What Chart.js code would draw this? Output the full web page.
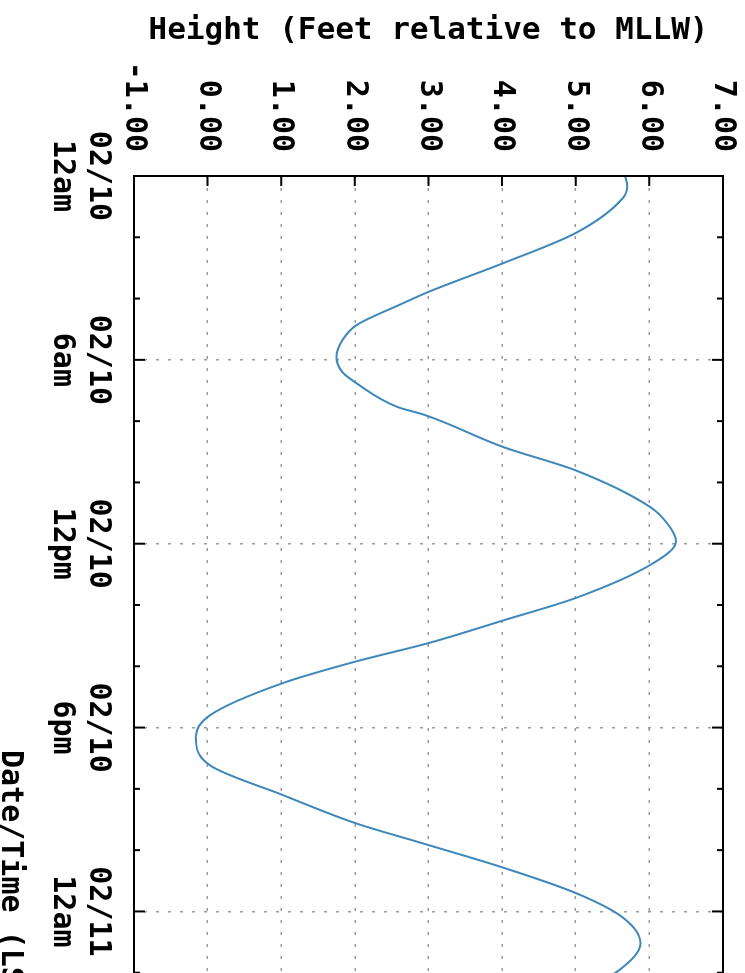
<!DOCTYPE html>
<html>
<head>
<meta charset="utf-8">
<title>Tide prediction 02/10</title>
<script src="https://cdn.jsdelivr.net/npm/chart.js@4.4.1/dist/chart.umd.min.js"></script>
<style>
  html, body { margin: 0; padding: 0; background: #fff; overflow: hidden; }
  /* chart is drawn landscape, then turned a quarter turn clockwise like the reference */
  #frame {
    position: absolute; left: 0; top: 0;
    width: 973px; height: 745px; overflow: hidden; background: #fff;
    transform-origin: 0 0; transform: translateX(745px) rotate(90deg);
  }
  canvas { display: block; }
</style>
</head>
<body>
<div id="frame"><canvas id="tide" width="1052" height="745"></canvas></div>
<script>
// hours after 02/10 12am (LST) and height in feet relative to MLLW
const hours   = [0, 0.33, 0.72, 1.86, 2.84, 3.79, 4.2, 4.87, 5.36, 5.91, 6.4, 6.76, 7.54, 7.8, 8.85, 9.6,
                 10.8, 11.33, 11.92, 12.64, 13.78, 14.5, 15.25, 15.84, 16.55, 17.6, 18.3, 19.23, 20.2,
                 21.13, 21.75, 22.56, 23.4, 24.2, 25.05, 25.9, 26.4];
const heights = [5.67, 5.70, 5.64, 5.00, 4.02, 2.99, 2.61, 2.02, 1.83, 1.75, 1.83, 2.02, 2.58, 2.95, 4.02, 4.99,
                 6.01, 6.24, 6.36, 6.05, 4.99, 4.02, 2.99, 2.02, 1.02, 0.03, -0.16, 0.03, 1.02,
                 2.02, 2.88, 4.00, 5.00, 5.64, 5.88, 5.60, 5.25];

// labelled time ticks
const labelHours = [0, 6, 12, 18, 24];
const labelDates = ['02/10', '02/10', '02/10', '02/10', '02/11'];
const labelTimes = ['12am', '6am', '12pm', '6pm', '12am'];

const hourMax = 28;
const monoFont = '"DejaVu Sans Mono", "Liberation Mono", monospace';
const gridGray = 'rgba(130, 130, 130, 0.8)';

// solid frame, inward tick marks and the time axis title
const frameTicks = {
    id: 'frameTicks',
    afterDraw(chart) {
        const { ctx, chartArea: a, scales: { x, y } } = chart;
        ctx.save();
        ctx.strokeStyle = '#000';
        ctx.lineWidth = 2;
        ctx.beginPath();
        x.ticks.forEach(t => {
            const px = x.getPixelForValue(t.value);
            const len = t.value % 6 === 0 ? 11 : 6;
            ctx.moveTo(px, a.bottom);
            ctx.lineTo(px, a.bottom - len);
            ctx.moveTo(px, a.top);
            ctx.lineTo(px, a.top + len);
        });
        y.ticks.forEach(t => {
            const py = y.getPixelForValue(t.value);
            ctx.moveTo(a.left, py);
            ctx.lineTo(a.left + 10, py);
        });
        ctx.stroke();
        ctx.strokeRect(a.left, a.top, a.right - a.left, a.bottom - a.top);

        ctx.font = 'bold 30px ' + monoFont;
        ctx.fillStyle = '#000';
        ctx.textBaseline = 'middle';
        ctx.textAlign = 'left';
        ctx.fillText('Date/Time (LST)', 750, 735);
        ctx.restore();
    }
};

const points = hours.map((h, i) => ({ x: h, y: heights[i] }));

new Chart(document.getElementById('tide').getContext('2d'), {
    type: 'line',
    data: {
        datasets: [{
            data: points,
            borderColor: '#3f88bb',
            borderWidth: 2,
            pointRadius: 0,
            fill: false,
            cubicInterpolationMode: 'monotone'
        }]
    },
    options: {
        responsive: false,
        animation: false,
        layout: { padding: { top: 22, right: 6.5, left: 0, bottom: 0 } },
        plugins: { legend: { display: false }, tooltip: { enabled: false } },
        scales: {
            x: {
                type: 'linear',
                min: 0,
                max: hourMax,
                afterFit: scale => { scale.height = 134; },
                ticks: {
                    stepSize: 2,
                    autoSkip: false,
                    maxRotation: 0,
                    padding: 18,
                    color: '#000',
                    font: { family: monoFont, size: 30, weight: 'bold', lineHeight: 1.2 },
                    callback: v => {
                        const i = labelHours.indexOf(v);
                        return i < 0 ? '' : [labelDates[i], labelTimes[i]];
                    }
                },
                grid: {
                    drawTicks: false,
                    lineWidth: 1.5,
                    color: c => (c.tick && c.tick.value % 6 === 0 && c.tick.value > 0 && c.tick.value < hourMax)
                        ? gridGray : 'rgba(0,0,0,0)'
                },
                border: { display: false, dash: [3, 9] }
            },
            y: {
                min: -1,
                max: 7,
                afterFit: scale => {
                    scale.width = 176;
                    scale.paddingTop = 0;
                    scale.paddingBottom = 0;
                },
                ticks: {
                    stepSize: 1,
                    padding: 24,
                    color: '#000',
                    font: { family: monoFont, size: 30, weight: 'bold' },
                    callback: v => v.toFixed(2)
                },
                title: {
                    display: true,
                    text: 'Height (Feet relative to MLLW)',
                    color: '#000',
                    font: { family: monoFont, size: 31, weight: 'bold', lineHeight: 1.2 },
                    padding: { top: 12, bottom: 0 }
                },
                grid: {
                    drawTicks: false,
                    lineWidth: 1.5,
                    color: c => (c.tick && c.tick.value > -1 && c.tick.value < 7) ? gridGray : 'rgba(0,0,0,0)'
                },
                border: { display: false, dash: [3, 9] }
            }
        }
    },
    plugins: [frameTicks]
});
</script>
</body>
</html>
